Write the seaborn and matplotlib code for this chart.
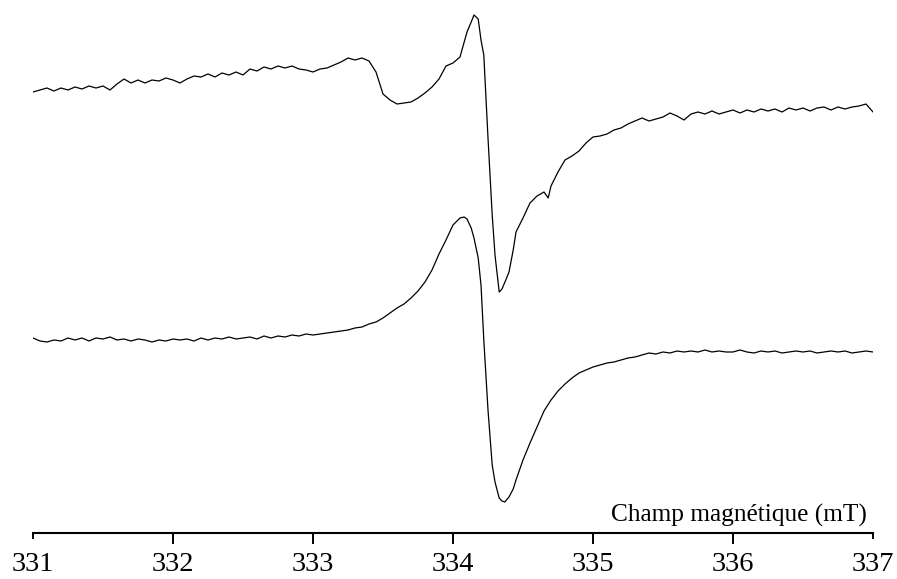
import matplotlib
matplotlib.use("Agg")
import matplotlib.pyplot as plt
from matplotlib.ticker import FixedLocator, FixedFormatter
import numpy as np
import seaborn as sns

sns.set_style("white")
plt.rcParams['font.family'] = ['Liberation Serif', 'DejaVu Serif']

# Magnetic field (mT) and EPR signal (arbitrary units)
field_top = [
    331.00, 331.05, 331.10, 331.15, 331.20, 331.25, 331.30, 331.35, 331.40, 331.45,
    331.50, 331.55, 331.60, 331.65, 331.70, 331.75, 331.80, 331.85, 331.90, 331.95,
    332.00, 332.05, 332.10, 332.15, 332.20, 332.25, 332.30, 332.35, 332.40, 332.45,
    332.50, 332.55, 332.60, 332.65, 332.70, 332.75, 332.80, 332.85, 332.90, 332.95,
    333.00, 333.05, 333.10, 333.15, 333.20, 333.25, 333.30, 333.35, 333.40, 333.45,
    333.50, 333.55, 333.60, 333.65, 333.70, 333.75, 333.80, 333.85, 333.90, 333.95,
    334.00, 334.05, 334.08, 334.10, 334.13, 334.15, 334.18, 334.20, 334.22, 334.25,
    334.28, 334.30, 334.33, 334.35, 334.38, 334.40, 334.43, 334.45, 334.50, 334.55,
    334.60, 334.65, 334.68, 334.70, 334.75, 334.80, 334.85, 334.90, 334.95,
    335.00, 335.05, 335.10, 335.15, 335.20, 335.25, 335.30, 335.35, 335.40, 335.45,
    335.50, 335.55, 335.60, 335.65, 335.70, 335.75, 335.80, 335.85, 335.90, 335.95,
    336.00, 336.05, 336.10, 336.15, 336.20, 336.25, 336.30, 336.35, 336.40, 336.45,
    336.50, 336.55, 336.60, 336.65, 336.70, 336.75, 336.80, 336.85, 336.90, 336.95,
    337.00]
signal_top = [
    441, 443, 445, 442, 445, 443, 446, 444, 447, 445,
    447, 443, 449, 454, 450, 453, 450, 453, 452, 455,
    453, 450, 454, 457, 456, 459, 456, 460, 458, 461,
    458, 464, 462, 466, 464, 467, 465, 467, 464, 463,
    461, 464, 465, 468, 471, 475, 473, 475, 472, 461,
    439, 433, 429, 430, 431, 435, 440, 446, 454, 467,
    470, 476, 491, 501, 511, 518, 514, 493, 478, 395,
    318, 278, 241, 244, 254, 261, 283, 301, 315, 330,
    337, 341, 335, 347, 361, 373, 377, 382, 390,
    396, 397, 399, 403, 405, 409, 412, 415, 412, 414,
    416, 420, 417, 413, 419, 421, 419, 422, 419, 421,
    423, 420, 423, 421, 424, 422, 424, 421, 425, 423,
    425, 422, 425, 426, 423, 426, 424, 426, 427, 429,
    421]

field_bottom = [
    331.00, 331.05, 331.10, 331.15, 331.20, 331.25, 331.30, 331.35, 331.40, 331.45,
    331.50, 331.55, 331.60, 331.65, 331.70, 331.75, 331.80, 331.85, 331.90, 331.95,
    332.00, 332.05, 332.10, 332.15, 332.20, 332.25, 332.30, 332.35, 332.40, 332.45,
    332.50, 332.55, 332.60, 332.65, 332.70, 332.75, 332.80, 332.85, 332.90, 332.95,
    333.00, 333.05, 333.10, 333.15, 333.20, 333.25, 333.30, 333.35, 333.40, 333.45,
    333.50, 333.55, 333.60, 333.65, 333.70, 333.75, 333.80, 333.85, 333.90, 333.95,
    334.00, 334.05, 334.08, 334.10, 334.13, 334.15, 334.18, 334.20, 334.22, 334.25,
    334.28, 334.30, 334.33, 334.35, 334.37, 334.40, 334.43, 334.45, 334.50, 334.55,
    334.60, 334.65, 334.70, 334.75, 334.80, 334.85, 334.90, 334.95,
    335.00, 335.05, 335.10, 335.15, 335.20, 335.25, 335.30, 335.35, 335.40, 335.45,
    335.50, 335.55, 335.60, 335.65, 335.70, 335.75, 335.80, 335.85, 335.90, 335.95,
    336.00, 336.05, 336.10, 336.15, 336.20, 336.25, 336.30, 336.35, 336.40, 336.45,
    336.50, 336.55, 336.60, 336.65, 336.70, 336.75, 336.80, 336.85, 336.90, 336.95,
    337.00]
signal_bottom = [
    195, 192, 191, 193, 192, 195, 193, 195, 192, 195,
    194, 196, 193, 194, 192, 194, 193, 191, 193, 192,
    194, 193, 194, 192, 195, 193, 195, 194, 196, 194,
    195, 196, 194, 197, 195, 197, 196, 198, 197, 199,
    198, 199, 200, 201, 202, 203, 205, 206, 209, 211,
    215, 220, 225, 229, 235, 242, 251, 263, 279, 293,
    308, 315, 316, 314, 305, 295, 275, 248, 193, 123,
    68, 51, 35, 32, 31, 36, 44, 53, 73, 90,
    106, 122, 133, 142, 149, 155, 160, 163,
    166, 168, 170, 171, 173, 175, 176, 178, 180, 179,
    181, 180, 182, 181, 182, 181, 183, 181, 182, 181,
    181, 183, 181, 180, 182, 181, 182, 180, 181, 182,
    181, 182, 180, 181, 182, 181, 182, 180, 181, 182,
    181]

major_ticks = [332, 333, 334, 335, 336]
end_ticks = [331, 337]
axis_label = "Champ magnétique (mT)"

fig = plt.figure(figsize=(8.97, 5.79), dpi=100)
ax = fig.add_axes([33 / 897, 46 / 579, 840 / 897, 533 / 579])

sns.lineplot(x=field_top, y=signal_top, ax=ax, color="black", lw=0.9,
             estimator=None, sort=False)
sns.lineplot(x=field_bottom, y=signal_bottom, ax=ax, color="black", lw=0.9,
             estimator=None, sort=False)

ax.set_xlim(331, 337)
ax.set_ylim(0, 533)

sns.despine(ax=ax, left=True, top=True, right=True)
ax.spines['bottom'].set_linewidth(1.5)
ax.spines['bottom'].set_color('black')
ax.set_yticks([])

# inner ticks are longer than the two end ticks in the original
ax.xaxis.set_major_locator(FixedLocator(major_ticks))
ax.xaxis.set_major_formatter(FixedFormatter([str(t) for t in major_ticks]))
ax.xaxis.set_minor_locator(FixedLocator(end_ticks))
ax.xaxis.set_minor_formatter(FixedFormatter([str(t) for t in end_ticks]))
ax.tick_params(axis='x', which='major', direction='out', length=8, width=1.4,
               pad=5.6, labelsize=20.5, colors='black', bottom=True)
ax.tick_params(axis='x', which='minor', direction='out', length=4.3, width=1.4,
               pad=9.3, labelsize=20.5, colors='black', bottom=True)

ax.text(336.957, 6, axis_label, ha='right', va='bottom', fontsize=18.3,
        color='black')

fig.savefig("out.png", dpi=100)
